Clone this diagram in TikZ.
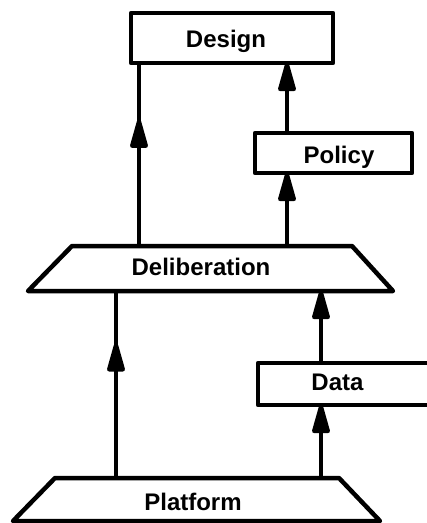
\documentclass[tikz,border=0pt]{standalone}
\usepackage{fontspec}
\setmainfont{Liberation Sans}
\usetikzlibrary{arrows.meta,decorations.markings}
\begin{document}
\begin{tikzpicture}[x=1pt,y=-1pt,
  every node/.style={inner sep=0pt, outer sep=0pt},
  box/.style={draw, line width=4.5pt, rectangle, line join=round},
  region/.style={rectangle},
  outline/.style={draw, line width=4.5pt, line join=round},
  lbl/.style={anchor=base, font=\fontsize{24}{28}\selectfont\bfseries},
  flow/.style={line width=4.5pt},
  head/.tip={Triangle[length=35pt,width=18pt,round]},
  endhead/.style={flow, -{head}},
  midhead/.style={flow, postaction={decorate},
    decoration={markings, mark=at position #1 with {\arrow{head}}}}]

  \useasboundingbox (0,0) rectangle (427,523);
  \clip (0,0) rectangle (427,523);

  % column positions of the connectors
  \coordinate (colA) at (139,0);
  \coordinate (colB) at (287,0);
  \coordinate (colC) at (116,0);
  \coordinate (colD) at (321,0);

  % rectangular boxes
  \node[box, minimum width=202pt, minimum height=50pt] (design) at (232,38) {};
  \node[box, minimum width=157pt, minimum height=40pt] (policy) at (333.5,153) {};
  \node[box, minimum width=187pt, minimum height=42pt] (data) at (351.5,384) {};

  % trapezoid layers (node gives the top edge and the height)
  \node[region, minimum width=280pt, minimum height=45pt] (delib) at (212,268.5) {};
  \draw[outline] (delib.north west) -- (delib.north east)
    -- ([xshift=41pt]delib.south east) -- ([xshift=-44pt]delib.south west) -- cycle;

  \node[region, minimum width=284pt, minimum height=43pt] (platform) at (197,499.5) {};
  \draw[outline] (platform.north west) -- (platform.north east)
    -- ([xshift=41pt]platform.south east) -- ([xshift=-42pt]platform.south west) -- cycle;

  % labels
  \node[lbl] (tdesign) at (226,47) {Design};
  \node[lbl] (tpolicy) at (339,163) {Policy};
  \node[lbl] (tdelib) at (201,275) {Deliberation};
  \node[lbl] (tdata) at (337.5,390) {Data};
  \node[lbl] (tplatform) at (193,510) {Platform};

  % connectors
  \draw[midhead=0.69] (delib.north -| colA) -- (design.south -| colA);
  \draw[endhead] (delib.north -| colB) -- (policy.south -| colB);
  \draw[endhead] (policy.north -| colB) -- (design.south -| colB);
  \draw[midhead=0.72] (platform.north -| colC) -- (delib.south -| colC);
  \draw[endhead] (platform.north -| colD) -- (data.south -| colD);
  \draw[endhead] (data.north -| colD) -- (delib.south -| colD);
\end{tikzpicture}
\end{document}
